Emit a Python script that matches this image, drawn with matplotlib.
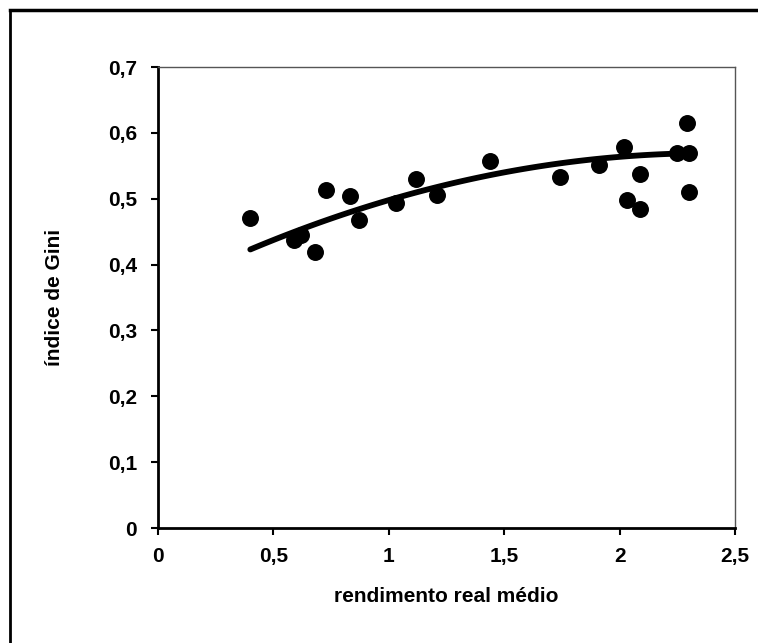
import numpy as np
import matplotlib
matplotlib.use("Agg")
import matplotlib.pyplot as plt
from matplotlib.lines import Line2D

plt.rcParams['font.family'] = ['Liberation Sans', 'DejaVu Sans']

# rendimento real medio x indice de Gini
rendimento = [0.40, 0.59, 0.62, 0.68, 0.73, 0.83, 0.87, 1.03, 1.12, 1.21,
              1.44, 1.74, 1.91, 2.02, 2.03, 2.09, 2.09, 2.25, 2.29, 2.30, 2.30]
gini = [0.471, 0.437, 0.445, 0.419, 0.514, 0.504, 0.468, 0.493, 0.530, 0.505,
        0.558, 0.533, 0.551, 0.579, 0.498, 0.537, 0.484, 0.569, 0.615, 0.569, 0.510]

# linha de tendencia polinomial (2a ordem): c2*x^2 + c1*x + c0
tendencia = [-0.0370, 0.1767, 0.3582]

xticks = [0, 0.5, 1, 1.5, 2, 2.5]
xlabels = ['0', '0,5', '1', '1,5', '2', '2,5']
yticks = [0, 0.1, 0.2, 0.3, 0.4, 0.5, 0.6, 0.7]
ylabels = ['0', '0,1', '0,2', '0,3', '0,4', '0,5', '0,6', '0,7']

fig = plt.figure(figsize=(7.58, 6.43), dpi=100)
ax = fig.add_axes([0.2084, 0.1788, 0.7613, 0.7170])

ax.scatter(rendimento, gini, s=125, color='black', zorder=3)

xs = np.linspace(min(rendimento), max(rendimento), 100)
ax.plot(xs, np.polyval(tendencia, xs), color='black', lw=4.2, solid_capstyle='round', zorder=4)

ax.set_xlim(0, 2.5)
ax.set_ylim(0, 0.7)
ax.set_xticks(xticks)
ax.set_xticklabels(xlabels)
ax.set_yticks(yticks)
ax.set_yticklabels(ylabels)
ax.tick_params(labelsize=15, width=1.5, length=5, direction='out')
ax.tick_params(axis='x', pad=9)
ax.tick_params(axis='y', pad=10)
for t in ax.get_xticklabels() + ax.get_yticklabels():
    t.set_fontweight('bold')

ax.spines['left'].set_linewidth(2)
ax.spines['bottom'].set_linewidth(2)
for s in ['top', 'right']:
    ax.spines[s].set_linewidth(1)
    ax.spines[s].set_linestyle((0, (2, 1)))
    ax.spines[s].set_color('#555555')

ax.set_xlabel('rendimento real médio', fontsize=15, fontweight='bold')
ax.set_ylabel('índice de Gini', fontsize=15, fontweight='bold')
ax.xaxis.set_label_coords(0.5, (643 - 597) / 643 / 0.7170 - 0.1788 / 0.7170, transform=ax.transAxes)
ax.yaxis.set_label_coords((55 - 158) / 577, 0.5, transform=ax.transAxes)
ax.xaxis.label.set_va('center')
ax.yaxis.label.set_va('center')

# moldura externa
fig.add_artist(Line2D([10 / 758, 1], [1 - 10 / 643] * 2, color='black', lw=2.5,
                      transform=fig.transFigure))
fig.add_artist(Line2D([10 / 758] * 2, [0, 1 - 10 / 643], color='black', lw=2,
                      transform=fig.transFigure))

fig.savefig('out.png', dpi=100)
